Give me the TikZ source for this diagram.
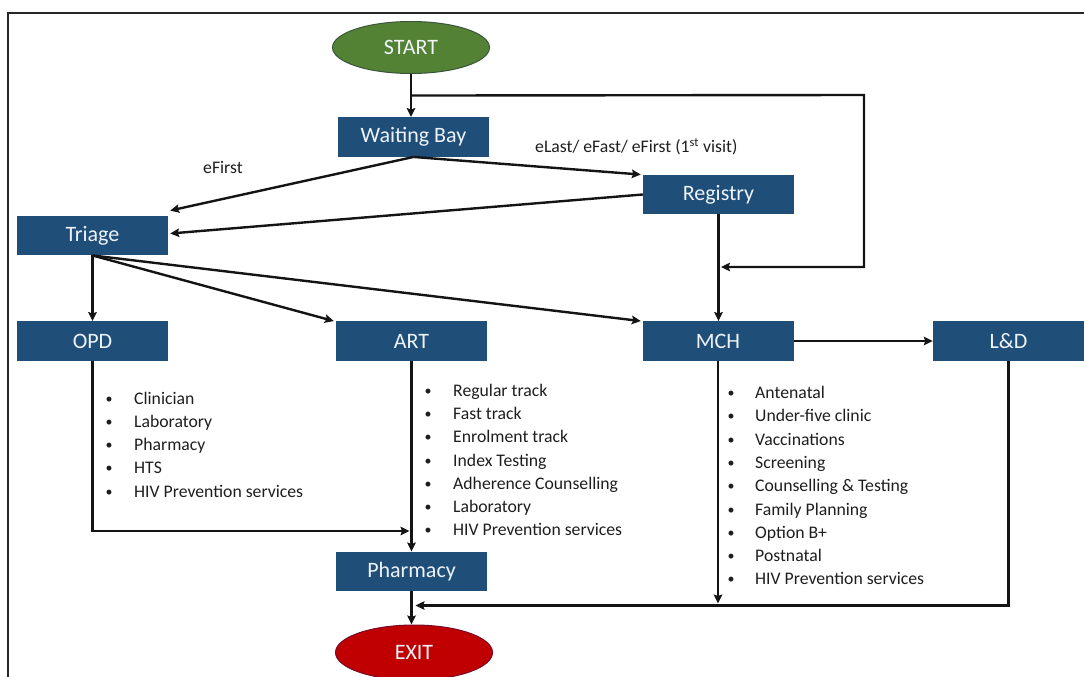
\documentclass[tikz,border=0pt]{standalone}
\usepackage{fontspec}
\setmainfont{Carlito}
\usetikzlibrary{arrows.meta,shapes.geometric,calc}
\definecolor{boxblue}{RGB}{31,78,121}
\definecolor{boxtext}{RGB}{238,243,250}
\definecolor{startgreen}{RGB}{84,130,53}
\definecolor{startedge}{RGB}{58,84,60}
\definecolor{exitred}{RGB}{192,0,0}
\definecolor{exitedge}{RGB}{120,10,40}
\definecolor{listgray}{RGB}{30,30,30}
\begin{document}
\begin{tikzpicture}[x=1pt,y=-1pt,
  stepbox/.style={rectangle, fill=boxblue, minimum width=151pt, minimum height=39.5pt,
    inner sep=0pt, text=boxtext, font=\fontsize{22}{26}\selectfont},
  terminal/.style={ellipse, line width=1pt, minimum width=157pt, minimum height=52pt,
    inner sep=0pt, font=\fontsize{22}{26}\selectfont},
  conn/.style={line width=2.4pt, draw=black!92, line join=miter,
    -{Stealth[length=9pt,width=8.5pt,inset=1.5pt]}},
  lbl/.style={anchor=base west, inner sep=0pt, text=listgray, font=\fontsize{17.7}{21}\selectfont},
  item/.style={anchor=base west, inner sep=0pt, text=listgray, font=\fontsize{17.7}{21}\selectfont},
  bul/.style={anchor=base, inner sep=0pt, text=listgray, font=\fontsize{14}{21}\selectfont}]
\useasboundingbox (0,0) rectangle (1084,677);

% page frame (top and left rules)
\coordinate (fbl) at (8,677);
\coordinate (ftl) at (8,13);
\coordinate (ftr) at (1084,13);
\draw[line width=1.3pt, draw=black!85] (fbl) -- (ftl) -- (ftr);

% terminals and process boxes
\node[terminal, fill=startgreen, draw=startedge, text=boxtext] (start) at (411,47.5) {START};
\node[stepbox] (wb)  at (413.5,137) {Waiting Bay};
\node[stepbox] (reg) at (718.5,194.5) {Registry};
\node[stepbox] (tri) at (92.5,235.5) {Triage};
\node[stepbox] (opd) at (92.5,341) {OPD};
\node[stepbox] (art) at (411.5,341) {ART};
\node[stepbox] (mch) at (718,341) {MCH};
\node[stepbox] (ld)  at (1008.5,341) {L\&D};
\node[stepbox] (ph)  at (411.5,571.5) {Pharmacy};
\node[terminal, fill=exitred, draw=exitedge, text=boxtext, minimum height=55pt] (exit) at (414,652.5) {EXIT};

% edge labels
\node[lbl] (lfirst) at (203,173.5) {eFirst};
\node[lbl] (llast) at (535,152.5) {eLast/ eFast/ eFirst (1\textsuperscript{st} visit)};

% helper points for routed connectors
\coordinate (j1) at ($(start.south)!0.5!(start.south |- wb.north)$);
\coordinate (rtop) at (864,95);
\coordinate (rbot) at (864,267);
\coordinate (mchin) at (721,267);
\coordinate (y531) at (0,531);
\coordinate (artin) at (409.5,531);
\coordinate (mchend) at (718,603.5);
\coordinate (ldturn) at (1008.5,605.5);
\coordinate (exitin) at (415.5,605.5);

% connectors
\draw[conn] (start.south) -- (start.south |- wb.north);
\draw[conn] (j1) -- (rtop) -- (rbot) -- (mchin);
\draw[conn] (wb.south) -- ([xshift=2pt,yshift=5pt]tri.north east);
\draw[conn] (wb.south) -- ([xshift=-2pt]reg.north west);
\draw[conn] (reg.west) -- ([xshift=2pt,yshift=2pt]tri.east);
\draw[conn] (reg.south) -- (reg.south |- mch.north);
\draw[conn] (tri.south) -- (tri.south |- opd.north);
\draw[conn] (tri.south) -- ([xshift=-2pt]art.north west);
\draw[conn] (tri.south) -- ([xshift=-1.5pt]mch.north west);
\draw[conn] (mch.east) -- (ld.west);
\draw[conn] (opd.south) -- (opd.south |- y531) -- (artin);
\draw[conn] (art.south) -- (art.south |- ph.north);
\draw[conn] (mch.south) -- (mchend);
\draw[conn] (ld.south) -- (ldturn) -- (exitin);
\draw[conn] (ph.south) -- (ph.south |- exit.north);

% service lists
\foreach \t [count=\i from 0] in {Clinician,Laboratory,Pharmacy,HTS,HIV Prevention services} {
  \node[bul] (opdb\i) at (109,{403+23.3*\i}) {•};
  \node[item] (opdt\i) at (134,{404+23.3*\i}) {\t};
}
\foreach \t [count=\i from 0] in {Regular track,Fast track,Enrolment track,Index Testing,Adherence Counselling,Laboratory,HIV Prevention services} {
  \node[bul] (artb\i) at (428,{395.5+23.2*\i}) {•};
  \node[item] (artt\i) at (453,{396.5+23.2*\i}) {\t};
}
\foreach \t [count=\i from 0] in {Antenatal,Under-five clinic,Vaccinations,Screening,Counselling \& Testing,Family Planning,Option B+,Postnatal,HIV Prevention services} {
  \node[bul] (mchb\i) at (731,{397.5+23.3*\i}) {•};
  \node[item] (mcht\i) at (755,{398.5+23.3*\i}) {\t};
}
\end{tikzpicture}
\end{document}
